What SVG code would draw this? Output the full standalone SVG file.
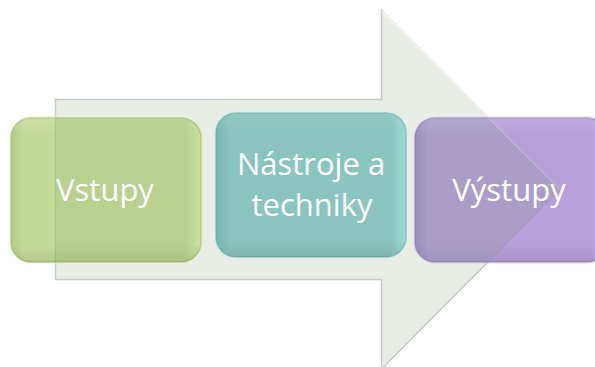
<svg xmlns="http://www.w3.org/2000/svg" width="595" height="367" viewBox="0 0 595 367">
  <defs>
    <linearGradient id="gGreen" x1="0" y1="0" x2="1" y2="0">
      <stop offset="0" stop-color="#b4ca88"/>
      <stop offset="0.07" stop-color="#c6da98"/>
      <stop offset="0.92" stop-color="#c6da98"/>
      <stop offset="1" stop-color="#dcf0a6"/>
    </linearGradient>
    <linearGradient id="gTeal" x1="0" y1="0" x2="1" y2="0">
      <stop offset="0" stop-color="#7ebcba"/>
      <stop offset="0.07" stop-color="#8ecdcd"/>
      <stop offset="0.92" stop-color="#8ecdcd"/>
      <stop offset="1" stop-color="#a8e8e6"/>
    </linearGradient>
    <linearGradient id="gPurple" x1="0" y1="0" x2="1" y2="0">
      <stop offset="0" stop-color="#a28ec6"/>
      <stop offset="0.07" stop-color="#b5a0da"/>
      <stop offset="0.92" stop-color="#b5a0da"/>
      <stop offset="1" stop-color="#c8b4ea"/>
    </linearGradient>
    <linearGradient id="shade" x1="0" y1="0" x2="0" y2="1">
      <stop offset="0" stop-color="#ffffff" stop-opacity="0.12"/>
      <stop offset="0.12" stop-color="#ffffff" stop-opacity="0"/>
      <stop offset="0.88" stop-color="#000000" stop-opacity="0"/>
      <stop offset="1" stop-color="#000000" stop-opacity="0.08"/>
    </linearGradient>
    <path id="arrowShape" d="M55.5,99.5 H381.5 V10 L560,189.5 L381.5,369 V279.5 H55.5 Z"/>
    <clipPath id="cGreen"><rect x="11" y="118" width="190" height="144" rx="20"/></clipPath>
    <clipPath id="cTeal"><rect x="216" y="113" width="190" height="144" rx="20"/></clipPath>
    <clipPath id="cPurple"><rect x="415" y="118" width="192" height="144" rx="20"/></clipPath>
  </defs>
  <style>
    .glow { fill: none; stroke-width: 4; stroke-opacity: 0.45; }
    .edge { stroke-width: 1.5; stroke-opacity: 0.55; }
    .lbl { font-family: "Open Sans", "Noto Sans", "Liberation Sans", sans-serif; font-size: 31px; fill: #ffffff; text-anchor: middle; }
    .arrow { fill: #e8eee6; stroke: #c6ccc3; stroke-width: 1.5; }
    .overlay { fill: #6c9466; fill-opacity: 0.14; stroke: #8f998c; stroke-opacity: 0.3; stroke-width: 1.2; }
    .hl { fill: none; stroke: #ffffff; stroke-width: 1.5; }
  </style>
  <rect width="595" height="367" fill="#ffffff"/>

  <g id="connectors">
    <use href="#arrowShape" class="arrow"/>
    <path d="M382,11 L560,189.5" class="hl" stroke-opacity="0.8"/>
  </g>

  <g id="node-vstupy">
    <rect x="11" y="118" width="190" height="144" rx="20" class="glow" stroke="#e6f3b4"/>
    <rect x="11" y="118" width="190" height="144" rx="20" fill="url(#gGreen)" class="edge" stroke="#98ad70"/>
    <rect x="11" y="118" width="190" height="144" rx="20" fill="url(#shade)"/>
    <g clip-path="url(#cGreen)"><use href="#arrowShape" class="overlay"/></g>
    <text x="105" y="201" class="lbl">Vstupy</text>
  </g>

  <g id="node-nastroje">
    <rect x="216" y="113" width="190" height="144" rx="20" class="glow" stroke="#c8f2f0"/>
    <rect x="216" y="113" width="190" height="144" rx="20" fill="url(#gTeal)" class="edge" stroke="#6aa6a4"/>
    <rect x="216" y="113" width="190" height="144" rx="20" fill="url(#shade)"/>
    <g clip-path="url(#cTeal)"><use href="#arrowShape" class="overlay"/></g>
    <text x="311" y="175" class="lbl">Nástroje a</text>
    <text x="312" y="216" class="lbl">techniky</text>
  </g>

  <g id="node-vystupy">
    <rect x="415" y="118" width="192" height="144" rx="20" class="glow" stroke="#ddd0f2"/>
    <rect x="415" y="118" width="192" height="144" rx="20" fill="url(#gPurple)" class="edge" stroke="#8c78ac"/>
    <rect x="415" y="118" width="192" height="144" rx="20" fill="url(#shade)"/>
    <g clip-path="url(#cPurple)">
      <use href="#arrowShape" class="overlay"/>
      <path d="M382,11 L560,189.5" class="hl" stroke-opacity="0.25"/>
    </g>
    <text x="509" y="201" class="lbl">Výstupy</text>
  </g>
</svg>
